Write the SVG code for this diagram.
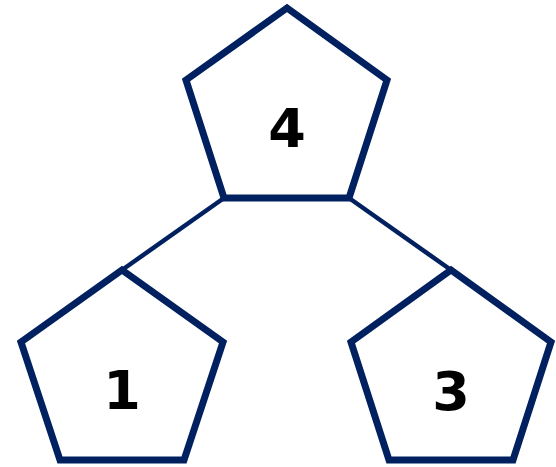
<svg xmlns="http://www.w3.org/2000/svg" width="556" height="467" viewBox="0 0 556 467">
<style>
.pent{fill:#ffffff;stroke:#002060;stroke-width:7;stroke-linejoin:miter}
.edge{stroke:#002060;stroke-width:4.5;fill:none}
.lbl{font-family:"DejaVu Sans",Verdana,sans-serif;font-weight:bold;font-size:54px;fill:#000;text-anchor:middle}
</style>
<rect width="556" height="467" fill="#ffffff"/>
<g id="connectors">
<line class="edge" x1="224" y1="198" x2="122" y2="270"/>
<line class="edge" x1="349" y1="198" x2="451" y2="270"/>
</g>
<g id="node4">
<polygon class="pent" points="287,8 387,80 349,198 224,198 186,80"/>
<text class="lbl" x="287" y="147">4</text>
</g>
<g id="node1">
<polygon class="pent" points="122,270 223,342 184,460 60,460 21,342"/>
<text class="lbl" x="122" y="409">1</text>
</g>
<g id="node3">
<polygon class="pent" points="451,270 551,342 513,460 389,460 351,342"/>
<text class="lbl" x="451" y="410">3</text>
</g>
</svg>
